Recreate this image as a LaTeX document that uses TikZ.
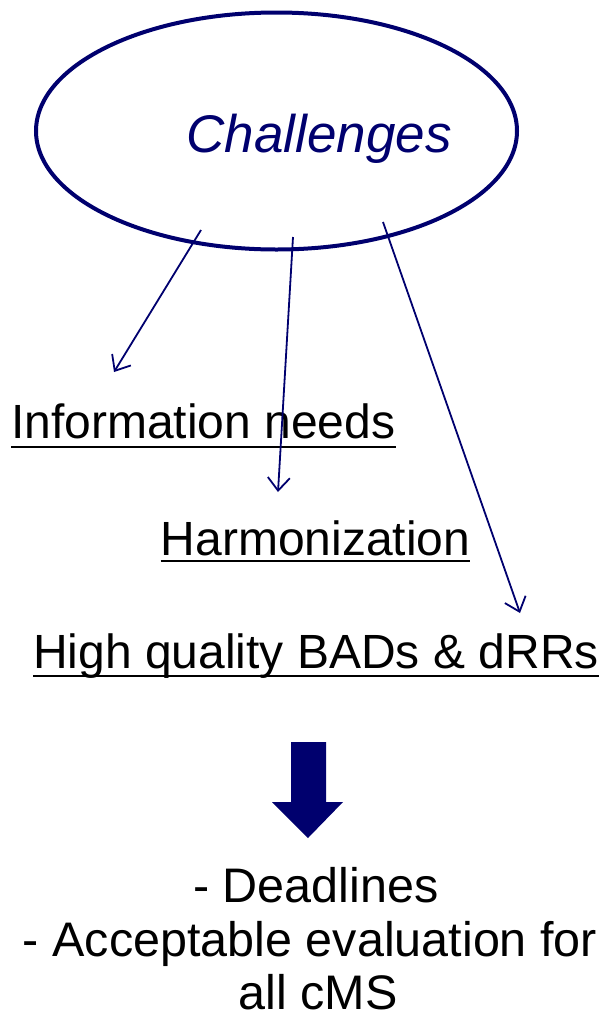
\documentclass[tikz,border=0pt]{standalone}
\usepackage{fontspec}
\setmainfont{Liberation Sans}
\usetikzlibrary{shapes.geometric,arrows.meta}
\definecolor{navy}{RGB}{0,0,110}
\begin{document}
\begin{tikzpicture}[x=1pt,y=-1pt,
  lbl/.style={inner sep=0pt, anchor=base, font=\fontsize{48}{52}\selectfont},
  uline/.style={line width=2.8pt, black},
  thin/.style={draw=navy, line width=1.8pt, -{Straight Barb[length=13pt,width=22pt,line width=1.8pt]}},
  bigarrow/.style={fill=navy, draw=none}]
\useasboundingbox (0,0) rectangle (602,1020);
\node[draw=navy, line width=4pt, ellipse, minimum width=481pt, minimum height=237pt, inner sep=0pt] (ch) at (276.5,131) {};
\node[inner sep=0pt, anchor=base, text=navy, font=\fontsize{53}{60}\selectfont\itshape] (cht) at (319,152) {Challenges};

\node[lbl, anchor=base west] (info) at (11,438) {Information needs};
\node[lbl] (harm) at (315.5,555) {Harmonization};
\node[lbl] (high) at (316,668) {High quality BADs \& dRRs};

\draw[uline] ([yshift=-9pt]info.base west) -- ([yshift=-9pt]info.base east);
\draw[uline] ([yshift=-6pt]harm.base west) -- ([yshift=-6pt]harm.base east);
\draw[uline] ([yshift=-8pt]high.base west) -- ([yshift=-8pt]high.base east);

\coordinate (s1) at (201,230);
\coordinate (e1) at (114,372);
\coordinate (s2) at (293,237);
\coordinate (e2) at (278,492);
\coordinate (s3) at (383,222);
\coordinate (e3) at (520,613);
\draw[thin] (s1) -- (e1);
\draw[thin] (s2) -- (e2);
\draw[thin] (s3) -- (e3);

\fill[bigarrow] (291,742) -- (326,742) -- (326,802) -- (343,802) -- (308,838) -- (272,802) -- (291,802) -- cycle;

\node[lbl, font=\fontsize{48.5}{52}\selectfont] (l1) at (316,902) {- Deadlines};
\node[lbl, font=\fontsize{48.5}{52}\selectfont] (l2) at (310,956) {- Acceptable evaluation for};
\node[lbl, font=\fontsize{48.5}{52}\selectfont] (l3) at (318,1009) {all cMS};
\end{tikzpicture}
\end{document}
